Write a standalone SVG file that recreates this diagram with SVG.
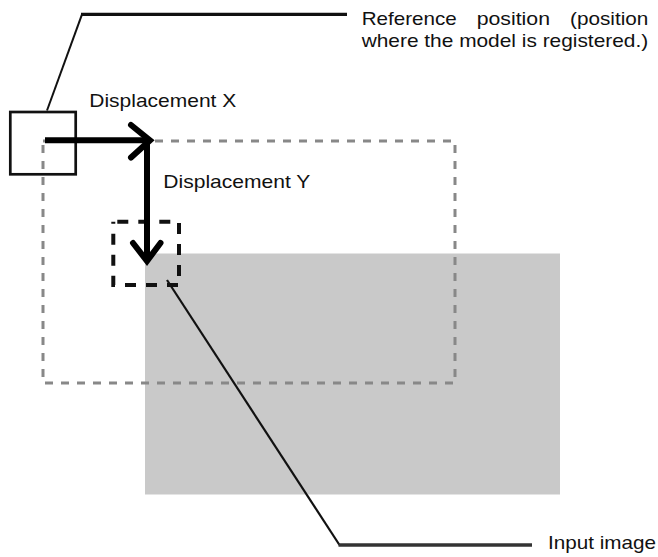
<svg xmlns="http://www.w3.org/2000/svg" width="658" height="557" viewBox="0 0 658 557">
<style>
  text { font-family: "Liberation Sans", Arial, sans-serif; font-size: 18.5px; fill: #111; }
  .leader { fill: none; stroke: #111; stroke-linecap: butt; stroke-linejoin: miter; }
  .thick { fill: none; stroke: #000; stroke-width: 6; }
</style>
<rect width="658" height="557" fill="#ffffff"/>
<g id="input-image">
  <rect x="145" y="253.5" width="415" height="241" fill="#c9c9c9"/>
</g>
<g id="search-area">
  <rect x="43" y="141" width="412" height="242" fill="none" stroke="#888" stroke-width="3" stroke-dasharray="8 8"/>
</g>
<g id="reference-model">
  <rect x="10.3" y="112" width="65.4" height="62.3" fill="none" stroke="#111" stroke-width="2.7"/>
</g>
<g id="found-model">
  <rect x="113.3" y="221.7" width="65.7" height="63.3" fill="none" stroke="#111" stroke-width="4" stroke-dasharray="11 10" stroke-dashoffset="-4"/>
</g>
<g id="connectors">
  <g id="displacement-x">
    <line class="thick" x1="45" y1="140.3" x2="150" y2="140.3"/>
    <polyline class="thick" points="131,125 150,140.3 131,157.5" stroke-linecap="round"/>
  </g>
  <g id="displacement-y">
    <line class="thick" x1="147" y1="140" x2="147" y2="260"/>
    <polyline class="thick" points="133,243 147,261 160.5,243" stroke-linecap="round"/>
  </g>
  <g id="reference-leader">
    <polyline class="leader" points="47,110.5 82,14.3" stroke-width="2"/>
    <line class="leader" x1="81" y1="14.3" x2="347" y2="14.3" stroke-width="3.2"/>
  </g>
  <g id="input-leader">
    <line class="leader" x1="167" y1="280" x2="339.5" y2="545" stroke-width="2.2"/>
    <line x1="338.5" y1="545" x2="532" y2="545" stroke="#333" stroke-width="3.4"/>
  </g>
</g>
<g id="labels">
  <text x="361.7" y="24.7" textLength="95" lengthAdjust="spacingAndGlyphs">Reference</text>
  <text x="476.7" y="24.7" textLength="73.3" lengthAdjust="spacingAndGlyphs">position</text>
  <text x="570" y="24.7" textLength="78.3" lengthAdjust="spacingAndGlyphs">(position</text>
  <text x="361.7" y="47" textLength="286.5" lengthAdjust="spacingAndGlyphs">where the model is registered.)</text>
  <text x="89.3" y="106.7" textLength="147" lengthAdjust="spacingAndGlyphs">Displacement X</text>
  <text x="163.3" y="188.3" textLength="147" lengthAdjust="spacingAndGlyphs">Displacement Y</text>
  <text x="548" y="549" textLength="108" lengthAdjust="spacingAndGlyphs">Input image</text>
</g>
</svg>
